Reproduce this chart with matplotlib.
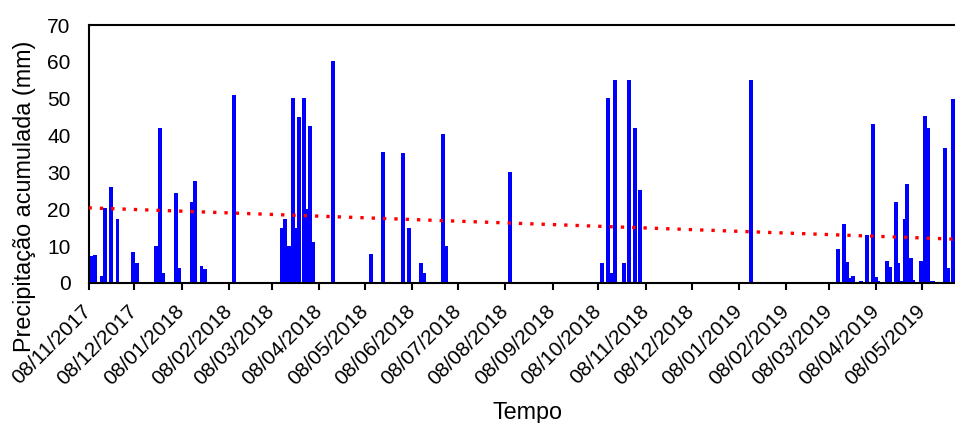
import matplotlib
matplotlib.use("Agg")
import matplotlib.pyplot as plt
import matplotlib.dates as mdates
import pandas as pd
import numpy as np

plt.rcParams['font.family'] = ['Liberation Sans', 'DejaVu Sans']

# --- data ---
dates = [
    "2017-11-10", "2017-11-12", "2017-11-17", "2017-11-19", "2017-11-23", "2017-11-27",
    "2017-12-07", "2017-12-10", "2017-12-22", "2017-12-25", "2017-12-27",
    "2018-01-04", "2018-01-06", "2018-01-15", "2018-01-17", "2018-01-21", "2018-01-23",
    "2018-02-11",
    "2018-03-15", "2018-03-17", "2018-03-19", "2018-03-22", "2018-03-24", "2018-03-26",
    "2018-03-29", "2018-03-31", "2018-04-02", "2018-04-04", "2018-04-17",
    "2018-05-12", "2018-05-20", "2018-06-02", "2018-06-06", "2018-06-14", "2018-06-16",
    "2018-06-28", "2018-06-30", "2018-08-11",
    "2018-10-10", "2018-10-14", "2018-10-16", "2018-10-19", "2018-10-25", "2018-10-28",
    "2018-11-01", "2018-11-04",
    "2019-01-16",
    "2019-03-14", "2019-03-18", "2019-03-20", "2019-03-21", "2019-03-24", "2019-03-29",
    "2019-04-02", "2019-04-06", "2019-04-08", "2019-04-09", "2019-04-15", "2019-04-17",
    "2019-04-21", "2019-04-22", "2019-04-25", "2019-04-27", "2019-04-28",
    "2019-05-01", "2019-05-02", "2019-05-07", "2019-05-10", "2019-05-12", "2019-05-14",
    "2019-05-15", "2019-05-23", "2019-05-25", "2019-05-28",
]
precip = [
    7.3, 7.5, 2.0, 20.3, 26.1, 17.4,
    8.5, 5.3, 10.0, 42.1, 2.7,
    24.3, 4.0, 22.0, 27.7, 4.7, 3.7,
    51.0,
    15.0, 17.5, 10.0, 50.1, 15.0, 45.1,
    50.1, 20.0, 42.6, 11.2, 60.2,
    7.8, 35.6, 35.4, 15.0, 5.3, 2.8,
    40.3, 10.0, 30.2,
    5.3, 50.1, 2.8, 55.1, 5.3, 55.1,
    42.1, 25.2,
    55.1,
    9.1, 16.0, 5.8, 1.3, 1.9, 0.5,
    13.0, 43.1, 1.7, 0.5, 6.0, 4.4,
    22.1, 5.3, 0.5, 17.3, 26.9,
    6.7, 0.7, 6.0, 45.3, 42.0, 0.6,
    0.6, 36.5, 4.0, 49.8,
]
trend_dates = ["2017-11-08T00:00", "2019-05-29T12:00"]
trend_values = [20.4, 11.9]
tick_dates = pd.date_range("2017-11-01", "2019-05-01", freq="MS") + pd.Timedelta(days=7)

x = pd.to_datetime(dates)
tx = pd.to_datetime(trend_dates, format="ISO8601")

W, H = 955, 423
fig = plt.figure(figsize=(W / 100, H / 100), dpi=100)
ax = fig.add_axes([88.5 / W, 1 - 283 / H, 1 - 88.5 / W, (283 - 25) / H])

ax.bar(x, precip, width=2.6, color="#0000FF", edgecolor="none", zorder=2)
ax.plot(tx, trend_values, color="#FF0000", linestyle=(0, (1, 2.4)), linewidth=2.4, zorder=3)

ax.set_xlim(tx[0], tx[1])
ax.set_ylim(0, 70)
ax.set_yticks(np.arange(0, 71, 10))
ax.set_xticks(tick_dates)
ax.xaxis.set_major_formatter(mdates.DateFormatter("%d/%m/%Y"))

ax.tick_params(axis="x", direction="out", length=5, width=1.5, labelsize=15, pad=13, color="black")
ax.tick_params(axis="y", length=0, labelsize=15, pad=13)

for lbl in ax.get_xticklabels():
    lbl.set_rotation(45)
    lbl.set_ha("right")
    lbl.set_va("center")
    lbl.set_rotation_mode("anchor")

for s in ["left", "bottom", "top"]:
    ax.spines[s].set_linewidth(1.5)
    ax.spines[s].set_color("black")
ax.spines["right"].set_visible(False)

fig.text(25 / W, 1 - 196 / H, "Precipitação acumulada (mm)", rotation=90,
         ha="center", va="center", fontsize=16.8)
fig.text(527 / W, 1 - 412 / H, "Tempo", ha="center", va="center", fontsize=16.8)

fig.savefig("out.png", dpi=100)
